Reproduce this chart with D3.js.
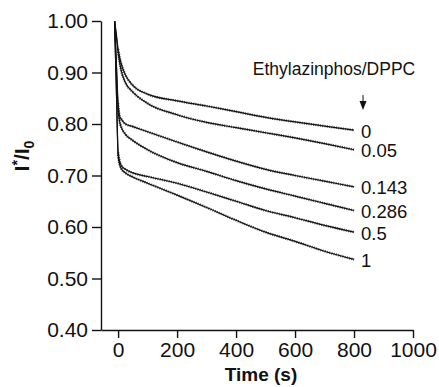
<!DOCTYPE html>
<html lang="en">
    <head>
        <style>
            body { margin: 0; background: #fff; }
            text { font-family: "Liberation Sans", Arial, sans-serif; fill: #111; }
            .axis path, .axis line { stroke: #111; stroke-width: 1.4px; }
            .axis text { font-size: 21px; }
            .fit { fill: none; stroke: #111; stroke-width: 1.2px; }
            .raw { fill: none; stroke: #222; stroke-width: 2.6px; stroke-dasharray: 1 1.3; opacity: 0.75; }
        </style>
        <script src="https://d3js.org/d3.v7.min.js"></script>
        <title>Ethylazinphos quenching</title>
    </head>
    <body>
        <div id="chart"></div>
        <script>
            // time points (s)
            var times = [-12, -6, 0, 5, 10, 25, 50, 100, 200, 300, 400, 500, 600, 700, 800];

            // I*/I0 for each Ethylazinphos/DPPC ratio
            var ratios = ["0", "0.05", "0.143", "0.286", "0.5", "1"];
            var r0    = [1.0, 0.975, 0.945, 0.93, 0.918, 0.895, 0.875, 0.858, 0.845, 0.835, 0.824, 0.813, 0.804, 0.796, 0.788];
            var r005  = [1.0, 0.97, 0.94, 0.92, 0.905, 0.88, 0.862, 0.84, 0.818, 0.803, 0.793, 0.783, 0.773, 0.762, 0.75];
            var r0143 = [1.0, 0.92, 0.84, 0.815, 0.81, 0.80, 0.795, 0.785, 0.765, 0.746, 0.728, 0.712, 0.70, 0.689, 0.678];
            var r0286 = [1.0, 0.915, 0.83, 0.805, 0.795, 0.78, 0.768, 0.75, 0.725, 0.708, 0.69, 0.674, 0.66, 0.646, 0.632];
            var r05   = [1.0, 0.87, 0.745, 0.728, 0.72, 0.712, 0.705, 0.698, 0.685, 0.668, 0.65, 0.632, 0.618, 0.603, 0.59];
            var r1    = [1.0, 0.87, 0.74, 0.722, 0.714, 0.705, 0.697, 0.685, 0.662, 0.638, 0.613, 0.59, 0.572, 0.553, 0.537];
            var allSeries = [r0, r005, r0143, r0286, r05, r1];

            var xTicks = [0, 200, 400, 600, 800, 1000];
            var yTicks = [0.40, 0.50, 0.60, 0.70, 0.80, 0.90, 1.00];

            var width = 439, height = 387;

            var svg = d3.select("#chart")
                .append("svg")
                    .attr("width", width)
                    .attr("height", height);

            var x = d3.scaleLinear()
                .domain([-58, 1000])
                .range([101, 413]);

            var y = d3.scaleLinear()
                .domain([0.4, 1.0])
                .range([330, 21]);

            var line = d3.line()
                .x(function(d) { return x(d.t); })
                .y(function(d) { return y(d.v); })
                .curve(d3.curveMonotoneX);

            allSeries.forEach(function(vals, i) {
                var pts = times.map(function(t, j) { return {t: t, v: vals[j]}; });
                // noisy measured trace, then the fitted curve on top
                svg.append("path")
                    .datum(pts.slice(2))
                    .attr("class", "raw")
                    .attr("d", line);
                svg.append("path")
                    .datum(pts)
                    .attr("class", "fit")
                    .attr("d", line);

                svg.append("text")
                    .attr("x", x(800) + 7)
                    .attr("y", y(vals[vals.length - 1]))
                    .attr("dy", "0.4em")
                    .style("font-size", "18.5px")
                    .text(ratios[i]);
            });

            svg.append("g")
                .attr("class", "axis")
                .attr("transform", "translate(0,330)")
                .call(d3.axisBottom(x).tickValues(xTicks).tickFormat(d3.format("d")).tickSize(8).tickSizeOuter(0).tickPadding(4));

            svg.append("g")
                .attr("class", "axis")
                .attr("transform", "translate(101,0)")
                .call(d3.axisLeft(y).tickValues(yTicks).tickFormat(d3.format(".2f")).tickSize(9).tickSizeOuter(0).tickPadding(4));

            // axis titles
            svg.append("text")
                .attr("x", 261)
                .attr("y", 381)
                .attr("text-anchor", "middle")
                .style("font-size", "19px")
                .style("font-weight", "bold")
                .text("Time (s)");

            var yl = svg.append("text")
                .attr("transform", "translate(29,156) rotate(-90)")
                .attr("text-anchor", "middle")
                .style("font-size", "21px")
                .style("font-weight", "bold");
            yl.append("tspan").text("I");
            yl.append("tspan").attr("dy", -7).style("font-size", "14px").text("*");
            yl.append("tspan").attr("dy", 7).text("/I");
            yl.append("tspan").attr("dy", 5).style("font-size", "14px").text("0");

            // legend title and arrow
            svg.append("text")
                .attr("x", 334)
                .attr("y", 75)
                .attr("text-anchor", "middle")
                .style("font-size", "17.5px")
                .text("Ethylazinphos/DPPC");

            var ax = x(800) + 9;
            svg.append("line")
                .attr("x1", ax).attr("x2", ax)
                .attr("y1", 95).attr("y2", 104)
                .attr("stroke", "#111").attr("stroke-width", 1);
            svg.append("path")
                .attr("d", d3.line()([[ax - 3.5, 101], [ax + 3.5, 101], [ax, 110]]) + "Z")
                .attr("fill", "#111");
        </script>
    </body>
</html>
